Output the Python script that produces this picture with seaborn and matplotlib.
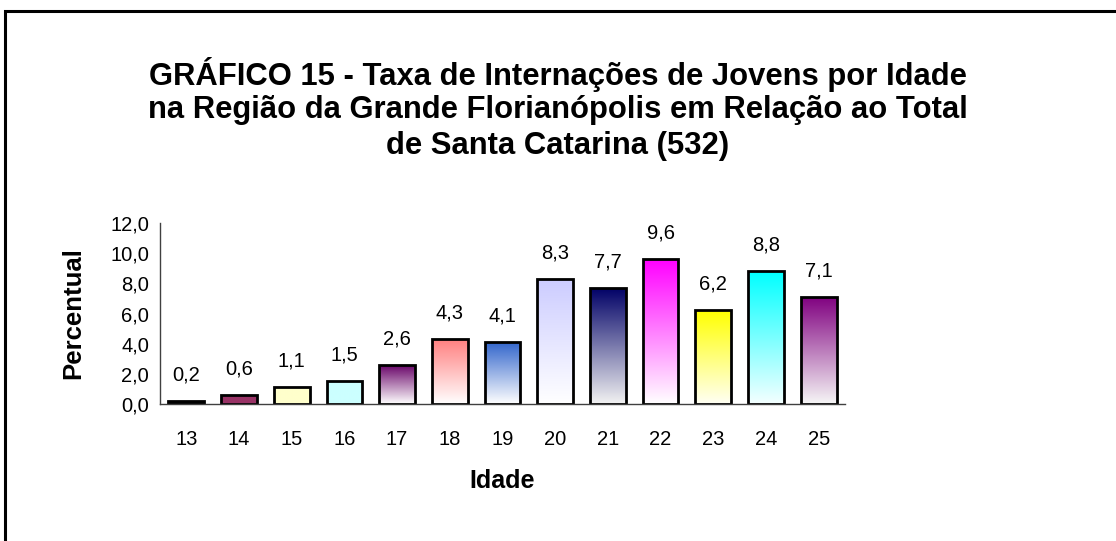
import numpy as np
import pandas as pd
import matplotlib
matplotlib.use("Agg")
import matplotlib.pyplot as plt
from matplotlib.colors import to_rgb
from matplotlib.patches import Rectangle
import seaborn as sns

# Internações de jovens por idade (%)
idades = ["13", "14", "15", "16", "17", "18", "19", "20", "21", "22", "23", "24", "25"]
percentual = [0.2, 0.6, 1.1, 1.5, 2.6, 4.3, 4.1, 8.3, 7.7, 9.6, 6.2, 8.8, 7.1]

# fill of each bar: colour at the top and colour at the base
cor_topo = ["#000000", "#993366", "#FFFFCC", "#CCFFFF", "#660066", "#FF8080", "#3366CC",
            "#CCCCFF", "#000066", "#FF00FF", "#FFFF00", "#00FFFF", "#800080"]
cor_base = ["#000000", "#993366", "#FFFFCC", "#CCFFFF", "#FFFFFF", "#FFFFFF", "#FFFFFF",
            "#FFFFFF", "#F2F2F2", "#FFFFFF", "#FFFFF4", "#F4FFFF", "#F6F6F6"]

titulo = ["GRÁFICO 15 - Taxa de Internações de Jovens por Idade",
          "na Região da Grande Florianópolis em Relação ao Total",
          "de Santa Catarina (532)"]

sns.set_theme(style="white")
plt.rcParams["font.family"] = ["Liberation Sans", "DejaVu Sans"]
plt.rcParams["text.color"] = "black"
plt.rcParams["axes.labelcolor"] = "black"
plt.rcParams["xtick.labelcolor"] = "black"
plt.rcParams["ytick.labelcolor"] = "black"

W, H = 1116, 541
fig = plt.figure(figsize=(W / 100, H / 100), dpi=100)
ax = fig.add_axes([160 / W, 1 - 404 / H, (845 - 160) / W, (404 - 223) / H])

df = pd.DataFrame({"Idade": idades, "Percentual": percentual})
sns.barplot(data=df, x="Idade", y="Percentual", ax=ax, width=0.68,
            color="white", edgecolor="black", linewidth=2.0, saturation=1)

# vertical gradient inside each bar
for patch, ct, cb in zip(ax.patches, cor_topo, cor_base):
    x0, y0 = patch.get_x(), patch.get_y()
    w, h = patch.get_width(), patch.get_height()
    t = np.linspace(0, 1, 128)[:, None]
    top, base = np.array(to_rgb(ct)), np.array(to_rgb(cb))
    img = base[None, None, :] * (1 - t[..., None]) + top[None, None, :] * t[..., None]
    im = ax.imshow(img, extent=[x0, x0 + w, y0, y0 + h], origin="lower",
                   aspect="auto", zorder=patch.get_zorder() - 0.1, interpolation="bilinear")
    im.set_clip_path(patch)
    patch.set_facecolor("none")

ax.set_xlim(-0.5, len(idades) - 0.5)
ax.set_ylim(0, 12)
ax.set_yticks(np.arange(0, 12.1, 2))
ax.set_yticklabels([f"{v:.1f}".replace(".", ",") for v in np.arange(0, 12.1, 2)])

# category boundaries carry the tick marks, labels sit at the centres
ax.set_xticks(np.arange(-0.5, len(idades), 1.0))
ax.set_xticklabels([])
ax.set_xticks(np.arange(len(idades)), minor=True)
ax.set_xticklabels(idades, minor=True)
ax.tick_params(axis="x", which="major", length=5, width=1, color="#404040", direction="out")
ax.tick_params(axis="x", which="minor", length=0, pad=19, labelsize=14.5)
ax.tick_params(axis="y", length=5, width=1, color="#404040", direction="out", labelsize=14.5, pad=3)

for side in ["top", "right"]:
    ax.spines[side].set_visible(False)
for side in ["left", "bottom"]:
    ax.spines[side].set_color("#404040")
    ax.spines[side].set_linewidth(1.0)

ax.bar_label(ax.containers[0], labels=[f"{v:.1f}".replace(".", ",") for v in percentual],
             padding=12, fontsize=14.5)

ax.set_xlabel("Idade", fontsize=18, fontweight="bold", labelpad=14)
ax.set_ylabel("Percentual", fontsize=18.5, fontweight="bold", labelpad=18)
ax.patch.set_alpha(0)

for linha, yc in zip(titulo, [75, 110, 146]):
    fig.text(0.5, 1 - yc / H, linha, ha="center", va="center",
             fontsize=22.3, fontweight="bold")

# outer frame, running off the right and bottom edges
fig.patches.append(Rectangle((5 / W, -0.1), 1.2, 1.1 - 11 / H,
                             transform=fig.transFigure, fill=False,
                             edgecolor="black", linewidth=2.2))

fig.savefig("out.png", dpi=100)
